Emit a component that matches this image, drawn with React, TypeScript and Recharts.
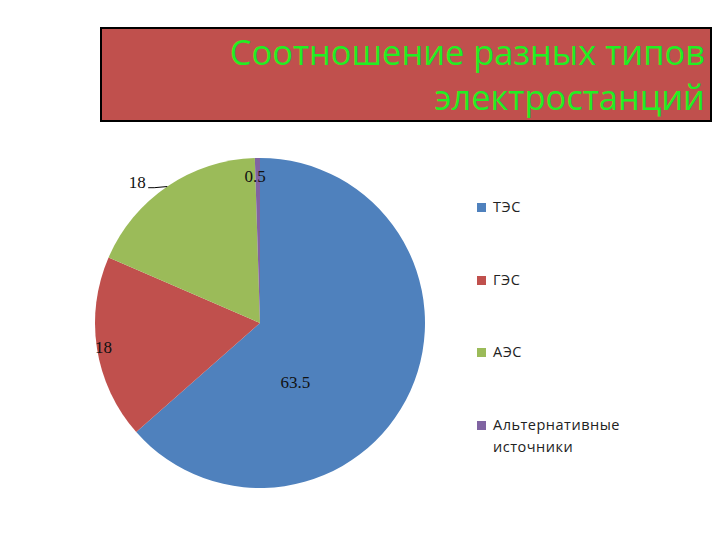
import React from "react"
import { PieChart, Pie, Cell } from "recharts"

const categories = ["ТЭС", "ГЭС", "АЭС", "Альтернативные источники"]
const shares = [63.5, 18, 18, 0.5]
const COLORS = ["#4F81BD", "#C0504D", "#9BBB59", "#8064A2"]
const TITLE_LINES = ["Соотношение разных типов", "электростанций"]

// Excel "best fit" label spots: radius as share of the pie radius, angle shift from the slice middle
const LABEL_SPOTS = [
  { r: 0.42, shift: -35 },
  { r: 0.96, shift: 0 },
  { r: 1.13, shift: 7, leader: true },
  { r: 0.89, shift: 1 },
]

const data = categories.map((name, i) => ({ name, value: shares[i] }))

const RADIAN = Math.PI / 180

function renderLabel(props: any) {
  const { cx, cy, midAngle, outerRadius, index, value } = props
  const spot = LABEL_SPOTS[index]
  const a = (midAngle + spot.shift) * RADIAN
  const x = cx + outerRadius * spot.r * Math.cos(a)
  const y = cy - outerRadius * spot.r * Math.sin(a)
  const edgeX = cx + outerRadius * Math.cos(midAngle * RADIAN)
  const edgeY = cy - outerRadius * Math.sin(midAngle * RADIAN)
  return (
    <g key={`label-${index}`}>
      {spot.leader && (
        <polyline
          points={`${x + 11},${y + 5} ${x + 17},${y + 5} ${edgeX},${edgeY}`}
          fill="none"
          stroke="#000"
          strokeWidth={1}
        />
      )}
      <text
        x={x}
        y={y}
        textAnchor="middle"
        dominantBaseline="central"
        fontFamily="'Liberation Serif', serif"
        fontSize={17}
        fill="#111"
      >
        {value}
      </text>
    </g>
  )
}

function ChartLegend() {
  return (
    <div
      style={{
        position: "absolute",
        left: 477,
        top: 196,
        width: 145,
        fontFamily: "'Open Sans', sans-serif",
        fontSize: 14.5,
        color: "#222",
      }}
    >
      {categories.map((name, i) => (
        <div
          key={`legend-${i}`}
          style={{ display: "flex", alignItems: "flex-start", height: 72.5, lineHeight: "22px", letterSpacing: 0.5 }}
        >
          <span
            style={{ display: "inline-block", width: 9, height: 9, marginTop: 7, marginRight: 7, background: COLORS[i], flex: "none" }}
          />
          <span>{name}</span>
        </div>
      ))}
    </div>
  )
}

export default function App() {
  return (
    <div style={{ position: "fixed", left: 0, top: 0, width: 720, height: 540, background: "#fff" }}>
      <PieChart width={720} height={540} margin={{ top: 0, right: 0, bottom: 0, left: 0 }}>
        <Pie
          data={data}
          dataKey="value"
          nameKey="name"
          cx={260}
          cy={323}
          outerRadius={165}
          startAngle={90}
          endAngle={-270}
          stroke="none"
          labelLine={false}
          label={renderLabel}
          isAnimationActive={false}
        >
          {data.map((entry, index) => (
            <Cell key={`cell-${index}`} fill={COLORS[index]} />
          ))}
        </Pie>
      </PieChart>
      <div
        style={{
          position: "absolute",
          left: 100,
          top: 27,
          width: 612,
          height: 95,
          boxSizing: "border-box",
          border: "2px solid #000",
          background: "#C0504D",
          color: "#22EE22",
          fontFamily: "'Open Sans', sans-serif",
          fontSize: 34.4,
          lineHeight: "45px",
          textAlign: "right",
          padding: "0 5px 0 0",
          whiteSpace: "nowrap",
        }}
      >
        {TITLE_LINES.map((line) => (
          <div key={line}>{line}</div>
        ))}
      </div>
      <ChartLegend />
    </div>
  )
}
